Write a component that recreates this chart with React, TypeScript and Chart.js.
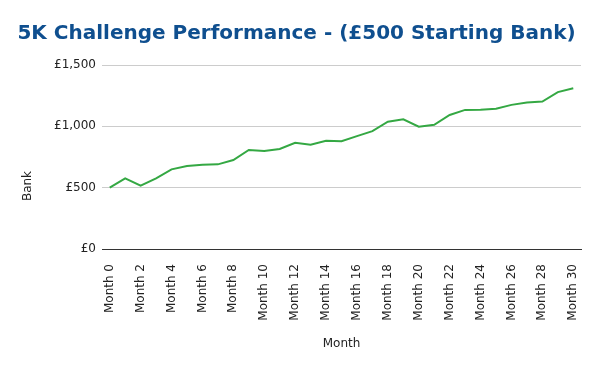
import React, { useEffect, useRef } from "react";
import { Chart, registerables } from "chart.js";

Chart.register(...registerables);

const months: string[] = Array.from({ length: 31 }, (_, i) => `Month ${i}`);
const bank: number[] = [
  500, 576, 516, 575, 649, 676, 687, 690, 725, 807, 799, 815, 866, 850, 883, 878,
  920, 961, 1038, 1057, 997, 1013, 1093, 1134, 1136, 1144, 1175, 1194, 1202, 1279, 1311,
];
const yTicks: number[] = [0, 500, 1000, 1500];
const titleText = "5K Challenge Performance - (£500 Starting Bank)";
const yTitle = "Bank";
const xTitle = "Month";

const FONT = "'DejaVu Sans', Verdana, sans-serif";

const bankTitlePlugin = {
  id: "bankTitle",
  afterDraw(chart: any) {
    const ctx = chart.ctx;
    const { top, bottom } = chart.chartArea;
    const cy = (top + bottom) / 2 + 29;
    ctx.save();
    ctx.font = `12px ${FONT}`;
    ctx.fillStyle = "#222";
    ctx.textAlign = "center";
    ctx.textBaseline = "middle";
    ctx.translate(28, cy);
    ctx.rotate(-Math.PI / 2);
    ctx.fillText(yTitle, 0, 0);
    ctx.restore();
  },
};

export default function App() {
  const ref = useRef<HTMLCanvasElement>(null);
  useEffect(() => {
    if (!ref.current) return;
    const chart = new Chart(ref.current, {
      type: "line",
      data: {
        labels: months,
        datasets: [
          {
            label: yTitle,
            data: bank,
            borderColor: "#34a843",
            backgroundColor: "#34a843",
            borderWidth: 2,
            pointRadius: 0,
            tension: 0,
            fill: false,
            yAxisID: "y",
          },
        ],
      },
      options: {
        animation: false,
        responsive: false,
        layout: { padding: { top: 0, bottom: 16, left: 0, right: 7 } },
        plugins: {
          legend: { display: false },
          tooltip: { enabled: false },
          title: {
            display: true,
            text: titleText,
            color: "#0f4f8f",
            font: { family: FONT, size: 20, weight: "bold" },
            padding: { top: 22, bottom: 19 },
          },
        },
        scales: {
          x: {
            offset: true,
            grid: { display: false },
            border: { display: true, color: "#333", width: 1 },
            ticks: {
              autoSkip: false,
              maxRotation: 90,
              minRotation: 90,
              padding: 7,
              color: "#222",
              font: { family: FONT, size: 12 },
              callback: (_v: any, i: number) => (i % 2 === 0 ? months[i] : ""),
            },
            title: {
              display: true,
              text: xTitle,
              color: "#222",
              font: { family: FONT, size: 12 },
              padding: { top: 4, bottom: 4 },
            },
            afterFit: (scale: any) => {
              scale.height = 106;
            },
          },
          y: {
            min: 0,
            max: 1500,
            afterBuildTicks: (scale: any) => {
              scale.ticks = yTicks.map((v) => ({ value: v }));
            },
            grid: {
              color: (c: any) => (c.tick && c.tick.value === 0 ? "#333" : "#ccc"),
              drawTicks: false,
            },
            border: { display: false },
            ticks: {
              padding: 6,
              color: "#222",
              font: { family: FONT, size: 12 },
              callback: (v: any) => "£" + Number(v).toLocaleString("en-GB"),
            },
            afterFit: (scale: any) => {
              scale.width = 102;
            },
          },
          yRight: {
            position: "right",
            display: true,
            grid: { display: false },
            border: { display: false },
            ticks: { display: false },
            afterFit: (scale: any) => {
              scale.width = 12;
            },
          },
        },
      },
      plugins: [bankTitlePlugin],
    });
    return () => chart.destroy();
  }, []);
  return (
    <div style={{ position: "fixed", left: 0, top: 0, width: 600, height: 371, background: "#fff" }}>
      <canvas ref={ref} width={600} height={371} style={{ width: 600, height: 371 }} />
    </div>
  );
}
